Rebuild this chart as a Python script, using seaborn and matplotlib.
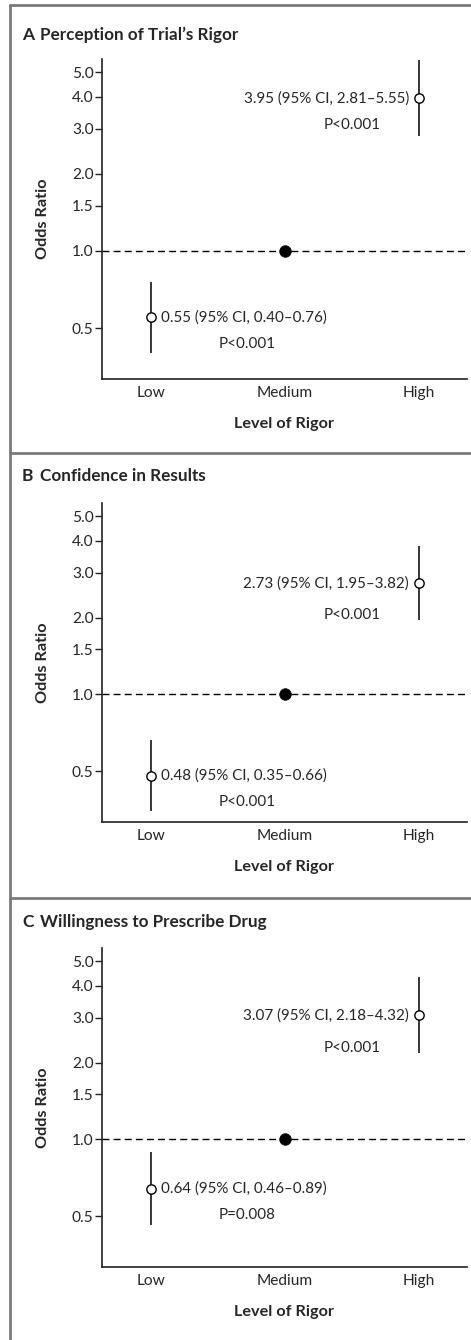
import numpy as np
import pandas as pd
import matplotlib.pyplot as plt
import seaborn as sns
from matplotlib.lines import Line2D

sns.set_theme(style="ticks")
plt.rcParams["font.family"] = ["Lato", "DejaVu Sans"]

# ====================================
# data
# ====================================
LEVELS = ["Low", "Medium", "High"]

PANEL_LETTERS = ["A", "B", "C"]
PANEL_TITLES = [
    "Perception of Trial\u2019s Rigor",
    "Confidence in Results",
    "Willingness to Prescribe Drug",
]

# odds ratios (medium = reference)
OR_A = [0.55, 1.0, 3.95]
LO_A = [0.40, np.nan, 2.81]
HI_A = [0.76, np.nan, 5.55]
P_A = ["P<0.001", "", "P<0.001"]

OR_B = [0.48, 1.0, 2.73]
LO_B = [0.35, np.nan, 1.95]
HI_B = [0.66, np.nan, 3.82]
P_B = ["P<0.001", "", "P<0.001"]

OR_C = [0.64, 1.0, 3.07]
LO_C = [0.46, np.nan, 2.18]
HI_C = [0.89, np.nan, 4.32]
P_C = ["P=0.008", "", "P<0.001"]

Y_TICKS = [0.5, 1.0, 1.5, 2.0, 3.0, 4.0, 5.0]

W, H = 471, 1340
BORDER = "#7a7a7a"
TXT = 10.9


def px_box(left, top, right, bottom):
    return [left / W, 1 - bottom / H, (right - left) / W, (bottom - top) / H]


def draw_panel(ax, odds, lo, hi, pvals, high_gap):
    df = pd.DataFrame({
        "pos": np.arange(len(LEVELS)),
        "level": LEVELS,
        "odds": odds,
        "lo": lo,
        "hi": hi,
        "p": pvals,
    })
    ref = df[df["level"] == "Medium"]
    est = df[df["level"] != "Medium"]

    ax.set_yscale("log")
    ax.axhline(1.0, color="black", lw=1.0, ls=(0, (5, 3)), zorder=1)

    ax.vlines(est["pos"], est["lo"], est["hi"], color="black", lw=1.1, zorder=2)

    sns.scatterplot(
        data=est, x="pos", y="odds", ax=ax,
        marker="o", s=45, facecolor="white", edgecolor="black",
        linewidth=1.0, zorder=3, legend=False
    )
    sns.scatterplot(
        data=ref, x="pos", y="odds", ax=ax,
        marker="o", s=70, color="black", edgecolor="black",
        linewidth=0.5, zorder=3, legend=False
    )

    for _, row in est.iterrows():
        label = f"{row['odds']:.2f} (95% CI, {row['lo']:.2f}\u2013{row['hi']:.2f})"
        if row["level"] == "Low":
            ax.annotate(label, (row["pos"], row["odds"]), xytext=(7, 0),
                        textcoords="offset points", ha="left", va="center",
                        fontsize=TXT)
            ax.annotate(row["p"], (row["pos"], row["odds"]), xytext=(69, -19),
                        textcoords="offset points", ha="center", va="center",
                        fontsize=TXT)
        else:
            ax.annotate(label, (row["pos"], row["odds"]), xytext=(-7, 0),
                        textcoords="offset points", ha="right", va="center",
                        fontsize=TXT)
            ax.annotate(row["p"], (row["pos"], row["odds"]), xytext=(-48, -high_gap),
                        textcoords="offset points", ha="center", va="center",
                        fontsize=TXT)

    ax.set_ylim(10 ** -0.5, 10 ** 0.75)
    ax.set_xlim(-0.366, 2.36)
    ax.set_yticks(Y_TICKS)
    ax.set_yticklabels([f"{v:.1f}" for v in Y_TICKS])
    ax.yaxis.set_minor_locator(plt.NullLocator())
    ax.set_xticks(df["pos"])
    ax.set_xticklabels(LEVELS)

    ax.tick_params(axis="y", length=5, width=1, color="#222222",
                   labelsize=11.2, pad=1)
    ax.tick_params(axis="x", length=0, labelsize=11.2, pad=5)

    ax.set_xlabel("Level of Rigor", fontsize=11.7, fontweight="bold", labelpad=12)
    ax.set_ylabel("Odds Ratio", fontsize=11.7, fontweight="bold", labelpad=16)

    for side in ["top", "right"]:
        ax.spines[side].set_visible(False)
    for side in ["left", "bottom"]:
        ax.spines[side].set_color("#222222")
        ax.spines[side].set_linewidth(1.2)


fig = plt.figure(figsize=(W / 100, H / 100), dpi=100)

panels = [
    (OR_A, LO_A, HI_A, P_A, 19, (59, 379), 35),
    (OR_B, LO_B, HI_B, P_B, 23, (503, 822), 476),
    (OR_C, LO_C, HI_C, P_C, 24, (948, 1267), 922),
]

for i, (odds, lo, hi, pv, gap, (top, bottom), title_y) in enumerate(panels):
    ax = fig.add_axes(px_box(102, top, 467, bottom))
    draw_panel(ax, odds, lo, hi, pv, gap)
    fig.text(22 / W, 1 - title_y / H, PANEL_LETTERS[i], fontsize=12.5,
             fontweight="bold", va="center", ha="left")
    fig.text(40 / W, 1 - title_y / H, PANEL_TITLES[i], fontsize=12.3,
             fontweight="bold", va="center", ha="left")

# panel frame
fig.add_artist(Line2D([10 / W, 10 / W], [0, 1 - 5 / H], color=BORDER, lw=2))
for yy in [5, 453, 898]:
    fig.add_artist(Line2D([10 / W, 1], [1 - yy / H, 1 - yy / H], color=BORDER, lw=2))

fig.savefig("out.png", dpi=100)
